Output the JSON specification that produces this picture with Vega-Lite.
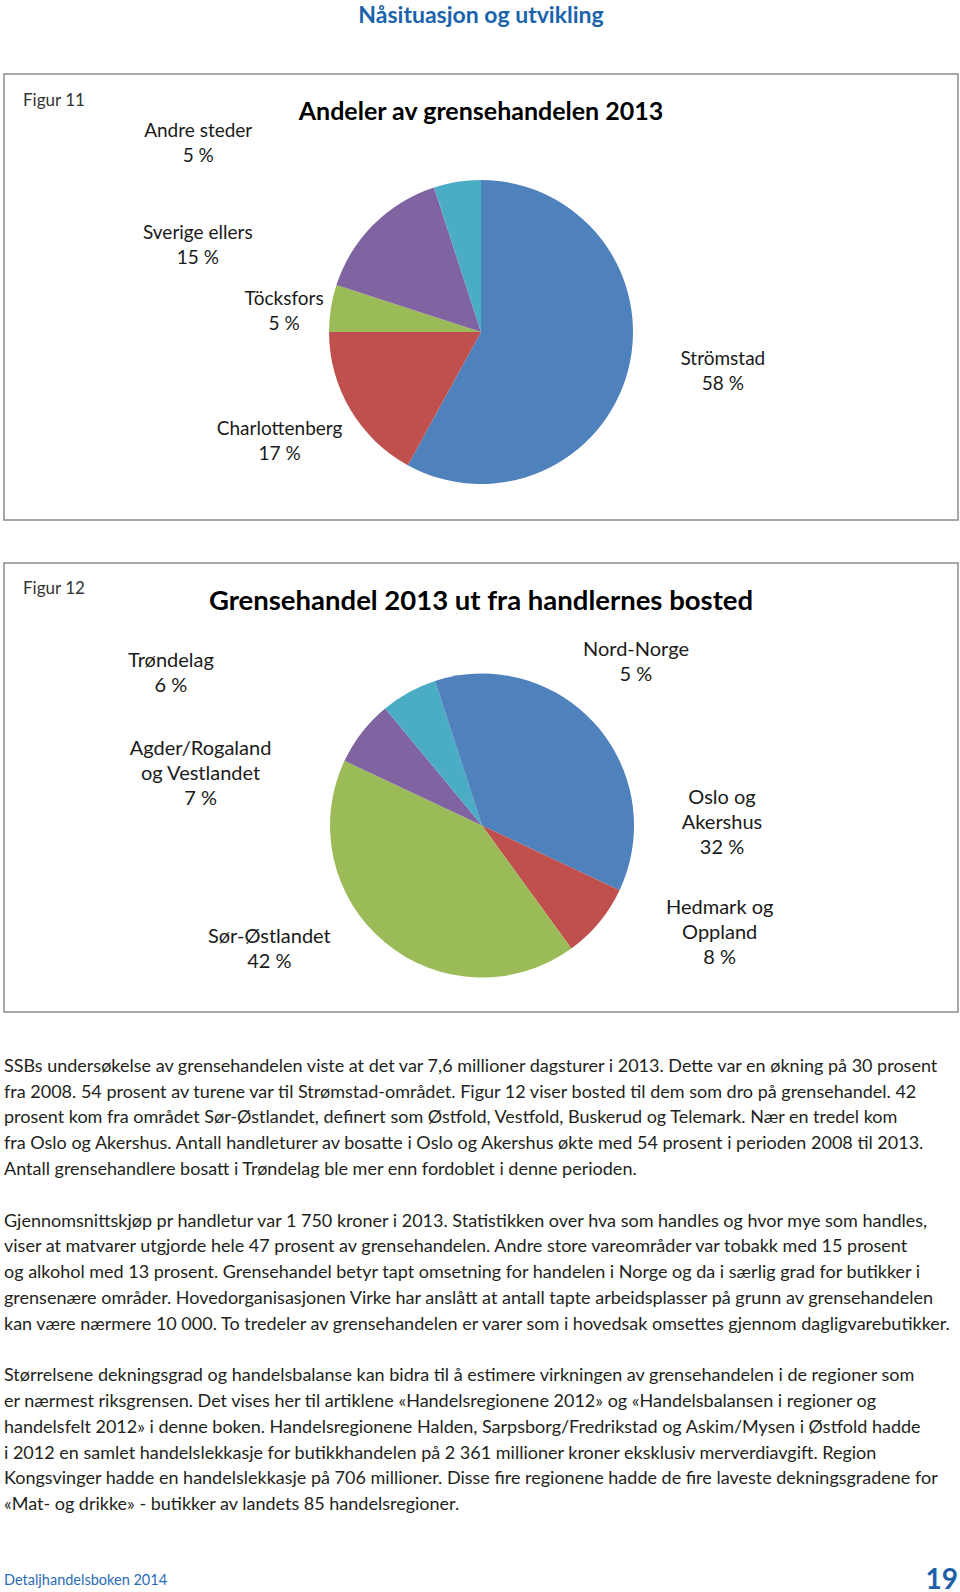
{
  "$schema": "https://vega.github.io/schema/vega-lite/v6.json",
  "background": "white",
  "padding": {"top": 5, "left": 3, "right": 3, "bottom": 0},
  "title": {"text": "Nåsituasjon og utvikling", "anchor": "middle", "frame": "group", "fontSize": 23, "font": "Lato", "fontWeight": "bold", "color": "#1a63ad", "offset": 45},
  "spacing": 41,
  "datasets": {
    "andeler": [
      {"sted": "Strömstad", "andel": 58, "nr": 1, "etikett": "Strömstad\n58 %"},
      {"sted": "Charlottenberg", "andel": 17, "nr": 2, "etikett": "Charlottenberg\n17 %"},
      {"sted": "Töcksfors", "andel": 5, "nr": 3, "etikett": "Töcksfors\n5 %"},
      {"sted": "Sverige ellers", "andel": 15, "nr": 4, "etikett": "Sverige ellers\n15 %"},
      {"sted": "Andre steder", "andel": 5, "nr": 5, "etikett": "Andre steder\n5 %"}
    ],
    "bosted": [
      {"region": "Oslo og Akershus", "andel": 32, "nr": 1, "etikett": "Oslo og\nAkershus\n32 %"},
      {"region": "Hedmark og Oppland", "andel": 8, "nr": 2, "etikett": "Hedmark og\nOppland\n8 %"},
      {"region": "Sør-Østlandet", "andel": 42, "nr": 3, "etikett": "Sør-Østlandet\n42 %"},
      {"region": "Agder/Rogaland og Vestlandet", "andel": 7, "nr": 4, "etikett": "Agder/Rogaland\nog Vestlandet\n7 %"},
      {"region": "Trøndelag", "andel": 6, "nr": 5, "etikett": "Trøndelag\n6 %"},
      {"region": "Nord-Norge", "andel": 5, "nr": 6, "etikett": "Nord-Norge\n5 %"}
    ],
    "tekst": [
      {"linje": 1, "tekst": "SSBs undersøkelse av grensehandelen viste at det var 7,6 millioner dagsturer i 2013. Dette var en økning på 30 prosent"},
      {"linje": 2, "tekst": "fra 2008. 54 prosent av turene var til Strømstad-området. Figur 12 viser bosted til dem som dro på grensehandel. 42"},
      {"linje": 3, "tekst": "prosent kom fra området Sør-Østlandet, definert som Østfold, Vestfold, Buskerud og Telemark. Nær en tredel kom"},
      {"linje": 4, "tekst": "fra Oslo og Akershus. Antall handleturer av bosatte i Oslo og Akershus økte med 54 prosent i perioden 2008 til 2013."},
      {"linje": 5, "tekst": "Antall grensehandlere bosatt i Trøndelag ble mer enn fordoblet i denne perioden."},
      {"linje": 7, "tekst": "Gjennomsnittskjøp pr handletur var 1 750 kroner i 2013. Statistikken over hva som handles og hvor mye som handles,"},
      {"linje": 8, "tekst": "viser at matvarer utgjorde hele 47 prosent av grensehandelen. Andre store vareområder var tobakk med 15 prosent"},
      {"linje": 9, "tekst": "og alkohol med 13 prosent. Grensehandel betyr tapt omsetning for handelen i Norge og da i særlig grad for butikker i"},
      {"linje": 10, "tekst": "grensenære områder. Hovedorganisasjonen Virke har anslått at antall tapte arbeidsplasser på grunn av grensehandelen"},
      {"linje": 11, "tekst": "kan være nærmere 10 000. To tredeler av grensehandelen er varer som i hovedsak omsettes gjennom dagligvarebutikker."},
      {"linje": 13, "tekst": "Størrelsene dekningsgrad og handelsbalanse kan bidra til å estimere virkningen av grensehandelen i de regioner som"},
      {"linje": 14, "tekst": "er nærmest riksgrensen. Det vises her til artiklene «Handelsregionene 2012» og «Handelsbalansen i regioner og"},
      {"linje": 15, "tekst": "handelsfelt 2012» i denne boken. Handelsregionene Halden, Sarpsborg/Fredrikstad og Askim/Mysen i Østfold hadde"},
      {"linje": 16, "tekst": "i 2012 en samlet handelslekkasje for butikkhandelen på 2 361 millioner kroner eksklusiv merverdiavgift. Region"},
      {"linje": 17, "tekst": "Kongsvinger hadde en handelslekkasje på 706 millioner. Disse fire regionene hadde de fire laveste dekningsgradene for"},
      {"linje": 18, "tekst": "«Mat- og drikke» - butikker av landets 85 handelsregioner."}
    ],
    "bunn": [
      {"del": "venstre", "tekst": "Detaljhandelsboken 2014"},
      {"del": "høyre", "tekst": "19"}
    ]
  },
  "vconcat": [
    {
      "title": {"text": "Figur 11", "anchor": "start", "frame": "group", "offset": -37, "dx": 19, "fontSize": 17, "font": "Lato", "fontWeight": "normal", "color": "#333333"},
      "vconcat": [
        {
          "width": 954,
          "height": 446,
          "view": {"stroke": "#8c8c8c", "strokeWidth": 1.5},
          "title": {"text": "Andeler av grensehandelen 2013", "anchor": "middle", "offset": -51, "fontSize": 25, "font": "Lato", "fontWeight": "bold", "color": "#000000"},
          "data": {"name": "andeler"},
          "transform": [{"stack": "andel", "groupby": [], "sort": [{"field": "nr", "order": "ascending"}], "as": ["a0", "a1"]}],
          "encoding": {"theta": {"field": "a0", "type": "quantitative", "stack": null, "scale": {"domain": [0, 100]}}},
          "layer": [
            {
              "mark": {"type": "arc", "outerRadius": 152, "yOffset": 35},
              "encoding": {
                "theta2": {"field": "a1"},
                "color": {"field": "sted", "type": "nominal", "legend": null,
                  "scale": {"domain": ["Strömstad", "Charlottenberg", "Töcksfors", "Sverige ellers", "Andre steder"],
                            "range": ["#4f81bd", "#c0504d", "#9bbb59", "#8064a2", "#4bacc6"]}}
              }
            },
            {"transform": [{"filter": {"field": "sted", "equal": "Strömstad"}}], "mark": {"type": "text", "radius": 245, "thetaOffset": 1.731, "yOffset": 35, "dy": -12.5}, "encoding": {"text": {"field": "etikett"}}},
            {"transform": [{"filter": {"field": "sted", "equal": "Charlottenberg"}}], "mark": {"type": "text", "radius": 229, "thetaOffset": 0.572, "yOffset": 35, "dy": -12.5}, "encoding": {"text": {"field": "etikett"}}},
            {"transform": [{"filter": {"field": "sted", "equal": "Töcksfors"}}], "mark": {"type": "text", "radius": 198, "thetaOffset": 0.106, "yOffset": 35, "dy": -12.5}, "encoding": {"text": {"field": "etikett"}}},
            {"transform": [{"filter": {"field": "sted", "equal": "Sverige ellers"}}], "mark": {"type": "text", "radius": 296, "thetaOffset": -0.019, "yOffset": 35, "dy": -12.5}, "encoding": {"text": {"field": "etikett"}}},
            {"transform": [{"filter": {"field": "sted", "equal": "Andre steder"}}], "mark": {"type": "text", "radius": 340, "thetaOffset": -0.668, "yOffset": 35, "dy": -12.5}, "encoding": {"text": {"field": "etikett"}}}
          ]
        }
      ]
    },
    {
      "title": {"text": "Figur 12", "anchor": "start", "frame": "group", "offset": -36, "dx": 19, "fontSize": 17, "font": "Lato", "fontWeight": "normal", "color": "#333333"},
      "vconcat": [
        {
          "width": 954,
          "height": 449,
          "view": {"stroke": "#8c8c8c", "strokeWidth": 1.5},
          "title": {"text": "Grensehandel 2013 ut fra handlernes bosted", "anchor": "middle", "offset": -52, "fontSize": 27.5, "font": "Lato", "fontWeight": "bold", "color": "#000000"},
          "data": {"name": "bosted"},
          "transform": [{"stack": "andel", "groupby": [], "sort": [{"field": "nr", "order": "ascending"}], "as": ["a0", "a1"]}],
          "encoding": {"theta": {"field": "a0", "type": "quantitative", "stack": null, "scale": {"domain": [0, 100]}}},
          "layer": [
            {
              "mark": {"type": "arc", "outerRadius": 152, "yOffset": 38, "xOffset": 1},
              "encoding": {
                "theta2": {"field": "a1"},
                "color": {"field": "region", "type": "nominal", "legend": null,
                  "scale": {"domain": ["Oslo og Akershus", "Hedmark og Oppland", "Sør-Østlandet", "Agder/Rogaland og Vestlandet", "Trøndelag", "Nord-Norge"],
                            "range": ["#4572a7", "#aa4643", "#89a54e", "#71588f", "#4198af", "#db843d"]}}
              }
            },
            {"transform": [{"filter": {"field": "region", "equal": "Oslo og Akershus"}}], "mark": {"type": "text", "radius": 240, "thetaOffset": 1.559, "yOffset": 38, "xOffset": 1, "fontSize": 20, "dy": -25}, "encoding": {"text": {"field": "etikett"}}},
            {"transform": [{"filter": {"field": "region", "equal": "Hedmark og Oppland"}}], "mark": {"type": "text", "radius": 261, "thetaOffset": -0.014, "yOffset": 38, "xOffset": 1, "fontSize": 20, "dy": -25}, "encoding": {"text": {"field": "etikett"}}},
            {"transform": [{"filter": {"field": "region", "equal": "Sør-Østlandet"}}], "mark": {"type": "text", "radius": 246, "thetaOffset": 1.672, "yOffset": 38, "xOffset": 1, "fontSize": 20, "dy": -12.5}, "encoding": {"text": {"field": "etikett"}}},
            {"transform": [{"filter": {"field": "region", "equal": "Agder/Rogaland og Vestlandet"}}], "mark": {"type": "text", "radius": 286, "thetaOffset": -0.26, "yOffset": 38, "xOffset": 1, "fontSize": 20, "dy": -25}, "encoding": {"text": {"field": "etikett"}}},
            {"transform": [{"filter": {"field": "region", "equal": "Trøndelag"}}], "mark": {"type": "text", "radius": 346, "thetaOffset": -0.426, "yOffset": 38, "xOffset": 1, "fontSize": 20, "dy": -12.5}, "encoding": {"text": {"field": "etikett"}}},
            {"transform": [{"filter": {"field": "region", "equal": "Nord-Norge"}}], "mark": {"type": "text", "radius": 224, "thetaOffset": 1.072, "yOffset": 38, "xOffset": 1, "fontSize": 20, "dy": -12.5}, "encoding": {"text": {"field": "etikett"}}}
          ]
        }
      ]
    },
    {
      "width": 954,
      "height": 464,
      "data": {"name": "tekst"},
      "mark": {"type": "text", "align": "left", "baseline": "middle", "font": "Lato", "fontSize": 18, "color": "#231f20", "lineHeight": 20},
      "encoding": {
        "x": {"datum": 0, "type": "quantitative", "scale": {"domain": [0, 1]}, "axis": null},
        "y": {"field": "linje", "type": "quantitative", "scale": {"domain": [0.5, 18.5], "reverse": true}, "axis": null},
        "text": {"field": "tekst"}
      }
    },
    {
      "width": 954,
      "height": 44,
      "data": {"name": "bunn"},
      "encoding": {
        "x": {"field": "del", "type": "nominal", "scale": {"type": "point", "domain": ["venstre", "høyre"], "padding": 0}, "axis": null},
        "text": {"field": "tekst"}
      },
      "layer": [
        {"transform": [{"filter": {"field": "del", "equal": "venstre"}}], "mark": {"type": "text", "align": "left", "baseline": "middle", "font": "Lato", "fontSize": 14.5, "color": "#2a6cb3"}},
        {"transform": [{"filter": {"field": "del", "equal": "høyre"}}], "mark": {"type": "text", "align": "right", "baseline": "middle", "font": "Lato", "fontWeight": "bold", "fontSize": 28, "color": "#1e5fa8"}}
      ]
    }
  ],
  "config": {
    "view": {"stroke": null},
    "text": {"font": "Lato", "fontSize": 19, "lineBreak": "\n", "lineHeight": 25, "align": "center", "baseline": "middle", "color": "#1a1a1a"}
  }
}
